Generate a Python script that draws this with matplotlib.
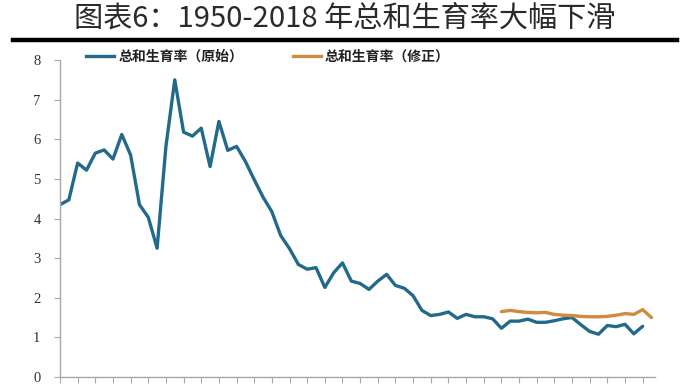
import matplotlib
matplotlib.use("Agg")
import matplotlib.pyplot as plt
from matplotlib.lines import Line2D

# ---- data ----
years_orig = list(range(1950, 2017))
tfr_orig = [4.35, 4.47, 5.40, 5.22, 5.65, 5.73, 5.50, 6.12, 5.60, 4.35,
            4.03, 3.25, 5.82, 7.50, 6.18, 6.08, 6.28, 5.31, 6.45, 5.72,
            5.82, 5.44, 4.98, 4.54, 4.17, 3.57, 3.24, 2.84, 2.72, 2.76,
            2.26, 2.63, 2.88, 2.42, 2.36, 2.21, 2.42, 2.59, 2.31, 2.24,
            2.05, 1.68, 1.55, 1.58, 1.64, 1.48, 1.58, 1.52, 1.52, 1.47,
            1.23, 1.41, 1.41, 1.46, 1.38, 1.38, 1.42, 1.47, 1.50, 1.32,
            1.15, 1.08, 1.30, 1.27, 1.33, 1.09, 1.28]
years_corr = list(range(2000, 2018))
tfr_corr = [1.65, 1.68, 1.65, 1.63, 1.62, 1.63, 1.58, 1.56, 1.55, 1.53,
            1.52, 1.52, 1.53, 1.56, 1.60, 1.58, 1.70, 1.50]
label_orig = "总和生育率（原始）"
label_corr = "总和生育率（修正）"
title = "图表6：1950-2018 年总和生育率大幅下滑"
yticks = [0, 1, 2, 3, 4, 5, 6, 7, 8]

blue = "#236A8A"
orange = "#D08B3E"

plt.rcParams['font.family'] = ['Noto Sans CJK SC', 'DejaVu Sans']

fig = plt.figure(figsize=(6.87, 3.88), dpi=100)
ax = fig.add_axes([60/687, 1-377/388, (655-60)/687, (377-60)/388])

ax.plot(years_orig, tfr_orig, color=blue, lw=2.4, solid_joinstyle='round',
        solid_capstyle='round', label=label_orig)
ax.plot(years_corr, tfr_corr, color=orange, lw=2.4, solid_joinstyle='round',
        solid_capstyle='round', label=label_corr)

ax.set_xlim(1950, 2017.4)
ax.set_ylim(0, 8)
ax.set_yticks(yticks)
ax.set_yticklabels([str(v) for v in yticks], family=['Liberation Serif'],
                   fontsize=10.5, color="#333333")
ax.set_xticks(list(range(1950, 2017, 2)))
ax.set_xticklabels([])
for s in ['top', 'right']:
    ax.spines[s].set_visible(False)
for s in ['left', 'bottom']:
    ax.spines[s].set_color("#A8A8A8")
    ax.spines[s].set_linewidth(1.0)
ax.tick_params(axis='y', direction='out', length=4, color="#A8A8A8", pad=10)
ax.tick_params(axis='x', direction='out', length=4, color="#A8A8A8")

# title
fig.text(0.502, 1 - 19/388, title, ha='center', va='center', fontsize=21,
         family=['Noto Sans CJK SC', 'DejaVu Sans'], weight='light',
         color="#2a2a2a")
# thick rule under title
fig.add_artist(Line2D([13/687, 677/687], [1 - 40/388, 1 - 40/388],
                      color='black', lw=3.2, transform=fig.transFigure))

handles = [Line2D([], [], color=blue, lw=2.4), Line2D([], [], color=orange, lw=2.4)]
leg = fig.legend(handles, [label_orig, label_corr], ncol=2,
                 loc='center', bbox_to_anchor=(268/687, 1 - 57/388),
                 frameon=False, handlelength=2.0,
                 handletextpad=0.3, columnspacing=3.6, borderpad=0,
                 prop={'family': ['Noto Sans CJK SC', 'DejaVu Sans'],
                       'weight': 'bold', 'size': 10})
for t in leg.get_texts():
    t.set_color("#222222")

fig.savefig("out.png", dpi=100)
